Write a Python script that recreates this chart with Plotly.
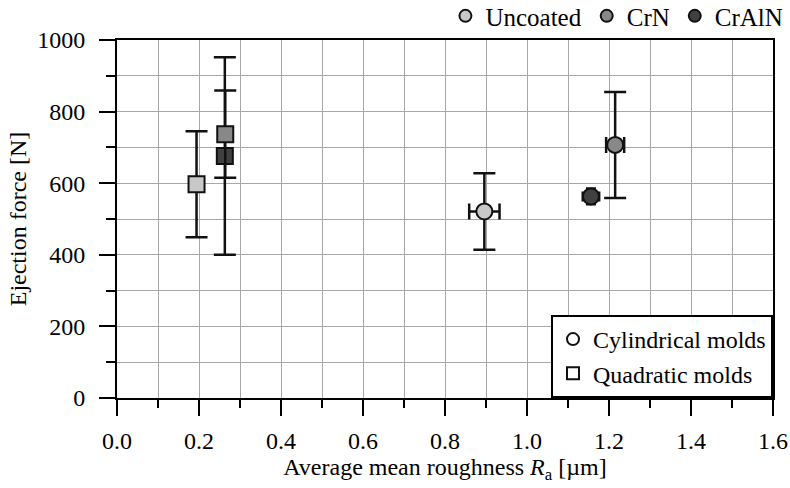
import plotly.graph_objects as go

coatings = ["Uncoated", "CrN", "CrAlN"]
fills = ["#c8c8c8", "#888888", "#404040"]

# Cylindrical molds (circles)
cyl_x = [0.896, 1.215, 1.156]
cyl_y = [521, 707, 563]
cyl_yerr = [107, 148, 22]
cyl_xerr = [0.037, 0.022, 0.02]
cyl_capy = [11, 11, 5]
cyl_capx = [8, 8, 5]

# Quadratic molds (squares)
quad_x = [0.194, 0.264, 0.263]
quad_y = [597, 737, 676]
quad_yerr = [148, 122, 276]

x_ticks = [0.0, 0.2, 0.4, 0.6, 0.8, 1.0, 1.2, 1.4, 1.6]
y_ticks = [0, 200, 400, 600, 800, 1000]

FONT = "Liberation Serif"
TICK_SIZE = 24
TITLE_SIZE = 24
LEG_SIZE = 25

fig = go.Figure()

for i in [2, 0, 1]:
    fig.add_trace(go.Scatter(
        x=[quad_x[i]], y=[quad_y[i]], mode="markers",
        marker=dict(symbol="square", size=16, color=fills[i],
                    line=dict(color="#111111", width=2)),
        error_y=dict(type="data", array=[quad_yerr[i]], color="#111111",
                     thickness=2.5, width=11),
        showlegend=False,
    ))

for i in range(3):
    fig.add_trace(go.Scatter(
        x=[cyl_x[i]], y=[cyl_y[i]], mode="markers",
        marker=dict(symbol="circle", size=16, color=fills[i],
                    line=dict(color="#111111", width=2)),
        error_y=dict(type="data", array=[cyl_yerr[i]], color="#111111",
                     thickness=2.5, width=cyl_capy[i]),
        error_x=dict(type="data", array=[cyl_xerr[i]], color="#111111",
                     thickness=2.5, width=cyl_capx[i]),
        showlegend=False,
    ))

for i, name in enumerate(coatings):
    fig.add_trace(go.Scatter(
        x=[None], y=[None], mode="markers", name=name,
        marker=dict(symbol="circle", size=15, color=fills[i],
                    line=dict(color="#111111", width=2)),
        legend="legend",
    ))

fig.add_trace(go.Scatter(
    x=[None], y=[None], mode="markers", name="Cylindrical molds",
    marker=dict(symbol="circle-open", size=15, color="#111111",
                line=dict(color="#111111", width=2)),
    legend="legend2",
))
fig.add_trace(go.Scatter(
    x=[None], y=[None], mode="markers", name="Quadratic molds",
    marker=dict(symbol="square-open", size=15, color="#111111",
                line=dict(color="#111111", width=2)),
    legend="legend2",
))

axis_common = dict(
    showline=True, linecolor="black", linewidth=2, mirror=True,
    ticks="outside", tickcolor="black", tickwidth=2, ticklen=16,
    showgrid=True, gridcolor="#a8a8a8", gridwidth=1.3,
    zeroline=False, automargin=False,
    tickfont=dict(family=FONT, size=TICK_SIZE, color="black"),
)

fig.update_xaxes(
    range=[0, 1.6], tickvals=x_ticks,
    ticktext=[f"{v:.1f}" for v in x_ticks],
    minor=dict(dtick=0.1, ticklen=8, tickwidth=2, tickcolor="black",
               ticks="outside", showgrid=True, gridcolor="#a8a8a8", gridwidth=1.3),
    title=dict(text="Average mean roughness <i>R</i><sub>a</sub> [µm]",
               font=dict(family=FONT, size=TITLE_SIZE, color="black"), standoff=2),
    ticklabelstandoff=4,
    **axis_common,
)
fig.update_yaxes(
    range=[0, 1000], tickvals=y_ticks,
    minor=dict(dtick=100, ticklen=9, tickwidth=2, tickcolor="black",
               ticks="outside", showgrid=True, gridcolor="#a8a8a8", gridwidth=1.3),
    title=dict(text="Ejection force [N]",
               font=dict(family=FONT, size=TITLE_SIZE, color="black"), standoff=4),
    ticklabelstandoff=9,
    **axis_common,
)

fig.update_layout(
    width=790, height=488,
    margin=dict(l=117, r=17, t=40, b=90, autoexpand=False),
    paper_bgcolor="white", plot_bgcolor="white",
    font=dict(family=FONT, size=TICK_SIZE, color="black"),
    legend=dict(
        orientation="h", xref="container", yref="container",
        x=0.998, xanchor="right", y=0.967, yanchor="middle",
        font=dict(family=FONT, size=LEG_SIZE, color="black"),
        bgcolor="rgba(0,0,0,0)", itemsizing="constant",
        itemwidth=30,
    ),
    legend2=dict(
        x=1.0, xanchor="right", y=0.0, yanchor="bottom",
        font=dict(family=FONT, size=24, color="black"),
        bgcolor="white", bordercolor="black", borderwidth=2,
        itemsizing="constant", itemwidth=30, tracegroupgap=0,
    ),
)

fig.write_html("out.html")
